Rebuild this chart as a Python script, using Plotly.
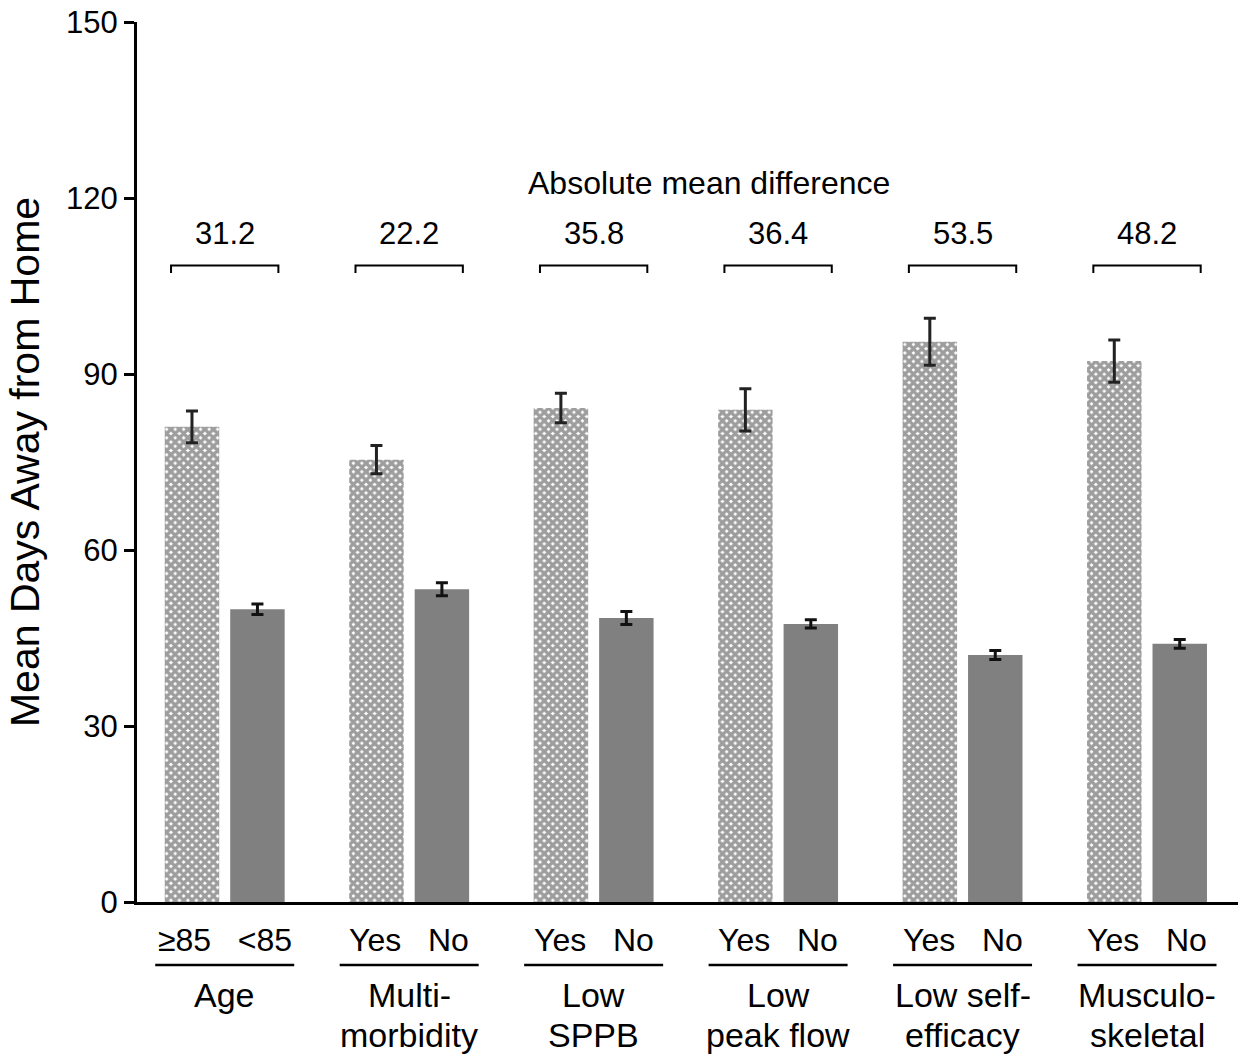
import plotly.graph_objects as go

# ---- data ----
group_line1 = ["Age", "Multi-", "Low", "Low", "Low self-", "Musculo-"]
group_line2 = ["", "morbidity", "SPPB", "peak flow", "efficacy", "skeletal"]
yes_labels = ["\u226585", "Yes", "Yes", "Yes", "Yes", "Yes"]
no_labels = ["<85", "No", "No", "No", "No", "No"]
yes_means = [81.0, 75.4, 84.2, 83.9, 95.5, 92.2]
no_means = [49.9, 53.3, 48.4, 47.4, 42.1, 44.0]
yes_err = [2.7, 2.4, 2.5, 3.6, 4.0, 3.6]
no_err = [0.9, 1.1, 1.1, 0.7, 0.75, 0.75]
abs_diff = ["31.2", "22.2", "35.8", "36.4", "53.5", "48.2"]
y_ticks = [0, 30, 60, 90, 120, 150]

# ---- layout constants ----
FONT = "Arial, Liberation Sans, sans-serif"
GROUP_STEP = 2.818
PAIR_GAP = 1.0
BAR_W = 0.832
X_RANGE = [-0.84, 15.98]
Y_RANGE = [0, 150]

n = len(yes_means)
x_yes = [i * GROUP_STEP for i in range(n)]
x_no = [x + PAIR_GAP for x in x_yes]
x_mid = [(a + b) / 2 for a, b in zip(x_yes, x_no)]


def xpaper(x):
    return (x - X_RANGE[0]) / (X_RANGE[1] - X_RANGE[0])


fig = go.Figure()
fig.add_trace(go.Bar(
    x=x_yes, y=yes_means, width=BAR_W,
    marker=dict(color="#3c3c3c", line=dict(width=0),
                pattern=dict(shape="x", size=6, solidity=0.8,
                             fgcolor="#3c3c3c", bgcolor="white")),
    error_y=dict(type="data", array=yes_err, visible=True,
                 thickness=3, width=6, color="#222222"),
    showlegend=False, hoverinfo="skip",
))
fig.add_trace(go.Bar(
    x=x_no, y=no_means, width=BAR_W,
    marker=dict(color="#808080", line=dict(width=0)),
    error_y=dict(type="data", array=no_err, visible=True,
                 thickness=3, width=6, color="#111111"),
    showlegend=False, hoverinfo="skip",
))

shapes = []
annotations = []
BR_TOP, BR_END, BR_HALF = 108.5, 107.2, 0.82
for i in range(n):
    # bracket
    x0, x1 = x_mid[i] - BR_HALF, x_mid[i] + BR_HALF
    shapes.append(dict(type="path", xref="x", yref="y",
                       path=f"M {x0},{BR_END} L {x0},{BR_TOP} L {x1},{BR_TOP} L {x1},{BR_END}",
                       line=dict(color="black", width=2)))
    annotations.append(dict(x=x_mid[i], y=113.9, xref="x", yref="y",
                            text=abs_diff[i], showarrow=False,
                            font=dict(family=FONT, size=31, color="black"),
                            xanchor="center", yanchor="middle"))
    # sub labels
    annotations.append(dict(x=x_mid[i], y=-0.043, xref="x", yref="paper",
                            text=f"{yes_labels[i]}&nbsp;&nbsp;&nbsp;{no_labels[i]}",
                            showarrow=False,
                            font=dict(family=FONT, size=32, color="black"),
                            xanchor="center", yanchor="middle"))
    # underline
    ul = 69.5 / 65.46
    shapes.append(dict(type="line", xref="paper", yref="paper",
                       x0=xpaper(x_mid[i] - ul), x1=xpaper(x_mid[i] + ul),
                       y0=-0.0716, y1=-0.0716,
                       line=dict(color="black", width=2.5)))
    # group labels
    annotations.append(dict(x=x_mid[i], y=-0.106, xref="x", yref="paper",
                            text=group_line1[i], showarrow=False,
                            font=dict(family=FONT, size=34, color="black"),
                            xanchor="center", yanchor="middle"))
    if group_line2[i]:
        annotations.append(dict(x=x_mid[i], y=-0.151, xref="x", yref="paper",
                                text=group_line2[i], showarrow=False,
                                font=dict(family=FONT, size=34, color="black"),
                                xanchor="center", yanchor="middle"))

annotations.append(dict(x=7.9, y=122.6, xref="x", yref="y",
                        text="Absolute mean difference", showarrow=False,
                        font=dict(family=FONT, size=32, color="black"),
                        xanchor="center", yanchor="middle"))

fig.update_layout(
    width=1241, height=1057,
    margin=dict(l=137, r=3, t=22, b=155, pad=0, autoexpand=False),
    paper_bgcolor="white", plot_bgcolor="white",
    barmode="overlay",
    shapes=shapes, annotations=annotations,
    xaxis=dict(range=X_RANGE, showticklabels=False, ticks="",
               showgrid=False, zeroline=False, automargin=False,
               showline=True, linewidth=3, linecolor="black"),
    yaxis=dict(range=Y_RANGE, tickvals=y_ticks, ticks="outside",
               ticklen=10, tickwidth=3, tickcolor="black",
               ticklabeloverflow="allow",
               tickfont=dict(family=FONT, size=31, color="black"),
               showgrid=False, zeroline=False, automargin=False,
               showline=True, linewidth=3, linecolor="black",
               title=dict(text="Mean Days Away from Home",
                          font=dict(family=FONT, size=41, color="black"),
                          standoff=14)),
)

fig.write_html("out.html",
               config={"displayModeBar": False},
               post_script="document.body.style.margin='0';document.body.style.overflow='hidden';")
